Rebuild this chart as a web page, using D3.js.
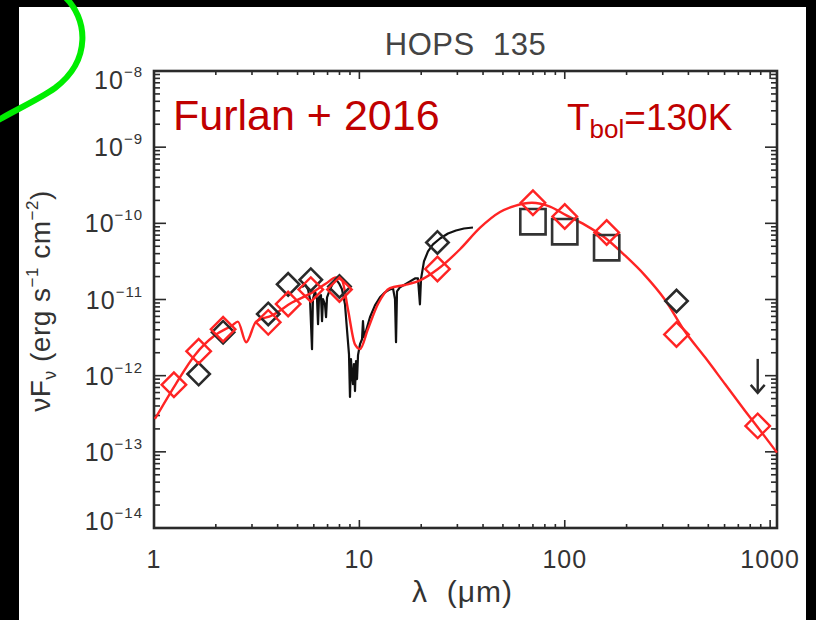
<!DOCTYPE html>
<html>
<head>
<meta charset="utf-8">
<script src="https://cdn.jsdelivr.net/npm/d3@7"></script>
<style>
  body { margin: 0; background: #000; }
  svg { display: block; }
  text { font-family: "Liberation Sans", Arial, sans-serif; }
</style>
</head>
<body>
<div id="chart"></div>
<script>
// photometry (red = model fit points, black = observed)
var photWave = [1.25, 1.65, 2.17, 3.6, 4.5, 5.8, 8.0, 24, 70, 100, 160, 350, 870];
var redFlux  = [7.59e-13, 2.09e-12, 4.07e-12, 5.01e-12, 8.71e-12, 1.35e-11, 1.35e-11, 2.51e-11, 1.86e-10, 1.23e-10, 7.59e-11, 3.47e-12, 2.19e-13];

var diamondWave = [1.65, 2.17, 3.6, 4.5, 5.8, 8.0, 24, 350];
var diamondFlux = [1.05e-12, 3.72e-12, 6.46e-12, 1.58e-11, 1.82e-11, 1.48e-11, 5.62e-11, 9.55e-12];

var squareWave = [70, 100, 160];
var squareFlux = [1.05e-10, 7.76e-11, 4.79e-11];

var limitWave = [870];
var limitFlux = [1.66e-12];

// best fit model
var modelWave = [1.01, 1.27, 1.58, 1.98, 2.40, 2.56, 2.81, 3.14, 3.75, 4.70, 5.88, 6.88, 7.69, 8.23, 8.80, 9.52, 10.07, 11.0, 12.32, 14.09, 16.67, 19.72, 24.13, 30.9, 38.6, 48.4, 57.2, 69.2, 84.7, 102.5, 125.4, 157, 196, 245, 307, 385, 482, 603, 754, 912, 1080];
var modelFlux = [2.70e-13, 7.59e-13, 1.86e-12, 3.39e-12, 4.57e-12, 5.13e-12, 2.75e-12, 5.13e-12, 6.17e-12, 9.12e-12, 1.23e-11, 1.62e-11, 1.95e-11, 1.78e-11, 7.41e-12, 2.57e-12, 2.24e-12, 4.07e-12, 8.71e-12, 1.41e-11, 1.55e-11, 1.78e-11, 2.51e-11, 4.57e-11, 8.71e-11, 1.41e-10, 1.70e-10, 1.86e-10, 1.66e-10, 1.26e-10, 9.55e-11, 6.46e-11, 3.80e-11, 2.09e-11, 1.00e-11, 3.80e-12, 1.74e-12, 7.76e-13, 3.47e-13, 1.78e-13, 9.77e-14];

// IRS spectrum
var specWave = [5.26, 5.44, 5.62, 5.75, 5.88, 5.94, 6.08, 6.22, 6.29, 6.36, 6.50, 6.58, 6.65, 6.80, 6.88, 6.96, 7.19, 7.44, 7.69, 7.96, 8.23, 8.51, 8.70, 8.90, 9.00, 9.10, 9.20, 9.31, 9.41, 9.52, 9.63, 9.74, 9.85, 10.07, 10.30, 10.41, 10.53, 10.77, 11.26, 11.91, 12.60, 13.32, 14.09, 14.58, 14.91, 15.08, 15.25, 15.77, 16.67, 17.64, 18.65, 19.29, 19.72, 19.95, 20.63, 21.58, 22.82, 24.69, 27.01, 29.53, 32.30, 35.73];
var specFlux = [1.45e-11, 1.58e-11, 1.36e-11, 1.01e-11, 2.23e-12, 1.01e-11, 1.28e-11, 1.01e-11, 4.73e-12, 1.07e-11, 1.14e-11, 5.19e-12, 1.01e-11, 8.65e-12, 5.85e-12, 1.07e-11, 1.36e-11, 1.63e-11, 1.84e-11, 1.63e-11, 1.36e-11, 8.65e-12, 4.07e-12, 1.92e-12, 5.25e-13, 1.65e-12, 1.05e-12, 7.76e-13, 1.42e-12, 6.28e-13, 1.55e-12, 9.02e-13, 1.86e-12, 2.59e-12, 3.01e-12, 5.19e-12, 3.20e-12, 3.84e-12, 5.85e-12, 8.39e-12, 1.07e-11, 1.24e-11, 1.36e-11, 1.40e-11, 1.01e-11, 2.75e-12, 1.28e-11, 1.45e-11, 1.58e-11, 1.73e-11, 1.89e-11, 1.89e-11, 8.65e-12, 1.84e-11, 3.16e-11, 4.28e-11, 5.28e-11, 6.32e-11, 7.35e-11, 8.05e-11, 8.55e-11, 8.81e-11];

var xTicks = [1, 10, 100, 1000];
var xTickLabels = ["1", "10", "100", "1000"];
var yTickExp = [-8, -9, -10, -11, -12, -13, -14];

var W = 816, H = 620;
var margin = {top: 71, bottom: 92, left: 154, right: 39};
var red = "#ff2424", ink = "#2a2a2a";

var svg = d3.select("#chart").append("svg")
  .attr("width", W)
  .attr("height", H);

svg.append("rect").attr("width", W).attr("height", H).attr("fill", "#000");
svg.append("rect").attr("x", 19).attr("y", 7).attr("width", 787).attr("height", H - 7).attr("fill", "#fff");

/* scales */
var xScale = d3.scaleLog().domain([1, 1080]).range([margin.left, W - margin.right]);
var yScale = d3.scaleLog().domain([1e-14, 1e-8]).range([H - margin.bottom, margin.top]);
var x0 = margin.left, x1 = W - margin.right, y0 = H - margin.bottom, y1 = margin.top;

/* minor + major ticks, inward on all four sides */
var ax = svg.append("g").attr("stroke", ink).attr("stroke-width", 1.6);
xScale.ticks().forEach(function(t){
  var major = xTicks.indexOf(t) >= 0;
  var len = major ? 8 : 4;
  var px = xScale(t);
  ax.append("line").attr("x1", px).attr("x2", px).attr("y1", y0).attr("y2", y0 - len);
  ax.append("line").attr("x1", px).attr("x2", px).attr("y1", y1).attr("y2", y1 + len);
});
yScale.ticks().forEach(function(t){
  var major = Math.abs(Math.log10(t) - Math.round(Math.log10(t))) < 1e-6;
  var len = major ? 12 : 6;
  var py = yScale(t);
  ax.append("line").attr("x1", x0).attr("x2", x0 + len).attr("y1", py).attr("y2", py);
  ax.append("line").attr("x1", x1).attr("x2", x1 - len).attr("y1", py).attr("y2", py);
});

svg.append("rect")
  .attr("x", x0).attr("y", y1)
  .attr("width", x1 - x0).attr("height", y0 - y1)
  .attr("fill", "none").attr("stroke", ink).attr("stroke-width", 2.6);

/* tick labels */
xTicks.forEach(function(t, i){
  svg.append("text")
    .attr("x", xScale(t)).attr("y", y0 + 40)
    .attr("text-anchor", "middle")
    .attr("font-size", 25).attr("letter-spacing", 1).attr("fill", "#333")
    .text(xTickLabels[i]);
});
yTickExp.forEach(function(e){
  var py = Math.min(Math.max(yScale(Math.pow(10, e)), y1 + 9), y0 - 7);
  var t = svg.append("text")
    .attr("x", 143).attr("y", py + 9)
    .attr("text-anchor", "end")
    .attr("font-size", 25).attr("letter-spacing", 1).attr("fill", "#333");
  t.append("tspan").text("10");
  t.append("tspan").attr("font-size", 15).attr("dy", -12).text("\u2212" + Math.abs(e));
});

/* titles */
svg.append("text")
  .attr("x", (x0 + x1) / 2).attr("y", 55)
  .attr("text-anchor", "middle")
  .attr("font-size", 31).attr("letter-spacing", 0.5).attr("fill", "#444")
  .attr("xml:space", "preserve")
  .text("HOPS  135");

svg.append("text")
  .attr("x", (x0 + x1) / 2 - 3).attr("y", 602)
  .attr("text-anchor", "middle")
  .attr("font-size", 30).attr("letter-spacing", 1).attr("fill", "#333")
  .attr("xml:space", "preserve")
  .text("\u03bb  (\u03bcm)");

var yl = svg.append("text")
  .attr("transform", "translate(50,301) rotate(-90)")
  .attr("text-anchor", "middle")
  .attr("font-size", 28).attr("letter-spacing", 0.5).attr("fill", "#333");
yl.append("tspan").text("\u03bdF");
yl.append("tspan").attr("font-size", 18).attr("dy", 6).text("\u03bd");
yl.append("tspan").attr("dy", -6).text(" (erg s");
yl.append("tspan").attr("font-size", 17).attr("dy", -12).text("\u22121");
yl.append("tspan").attr("dy", 12).text(" cm");
yl.append("tspan").attr("font-size", 17).attr("dy", -12).text("\u22122");
yl.append("tspan").attr("dy", 12).text(")");

/* data */
var line = d3.line()
  .x(function(d){ return xScale(d[0]); })
  .y(function(d){ return yScale(d[1]); });

var plot = svg.append("g");

plot.append("path")
  .datum(d3.zip(specWave, specFlux))
  .attr("d", line)
  .attr("fill", "none").attr("stroke", "#111").attr("stroke-width", 2.2)
  .attr("stroke-linejoin", "round");

plot.append("path")
  .datum(d3.zip(modelWave, modelFlux))
  .attr("d", line.curve(d3.curveMonotoneX))
  .attr("fill", "none").attr("stroke", red).attr("stroke-width", 2.4);

var diamond = d3.symbol().type(d3.symbolSquare);

plot.selectAll(".bdia")
  .data(d3.zip(diamondWave, diamondFlux))
  .join("path")
  .attr("class", "bdia")
  .attr("d", diamond.size(250))
  .attr("transform", function(d){ return "translate(" + xScale(d[0]) + "," + yScale(d[1]) + ") rotate(45)"; })
  .attr("fill", "none").attr("stroke", ink).attr("stroke-width", 2.6);

plot.selectAll(".bsq")
  .data(d3.zip(squareWave, squareFlux))
  .join("path")
  .attr("class", "bsq")
  .attr("d", diamond.size(640))
  .attr("transform", function(d){ return "translate(" + xScale(d[0]) + "," + yScale(d[1]) + ")"; })
  .attr("fill", "none").attr("stroke", "#333").attr("stroke-width", 2.6);

plot.selectAll(".rdia")
  .data(d3.zip(photWave, redFlux))
  .join("path")
  .attr("class", "rdia")
  .attr("d", diamond.size(300))
  .attr("transform", function(d){ return "translate(" + xScale(d[0]) + "," + yScale(d[1]) + ") rotate(45)"; })
  .attr("fill", "none").attr("stroke", red).attr("stroke-width", 2.4);

/* upper limit arrow */
d3.zip(limitWave, limitFlux).forEach(function(d){
  var px = xScale(d[0]), py = yScale(d[1]);
  var g = plot.append("g").attr("stroke", ink).attr("stroke-width", 2.4).attr("fill", "none");
  g.append("line").attr("x1", px).attr("x2", px).attr("y1", py).attr("y2", py + 34);
  g.append("path").attr("d", "M" + (px - 7) + "," + (py + 26) + "L" + px + "," + (py + 34) + "L" + (px + 7) + "," + (py + 26));
});

/* annotations */
svg.append("text")
  .attr("x", 173).attr("y", 130)
  .attr("font-size", 43).attr("fill", "#c00000")
  .text("Furlan + 2016");

var tb = svg.append("text")
  .attr("x", 567).attr("y", 130)
  .attr("font-size", 37).attr("fill", "#c00000");
tb.append("tspan").text("T");
tb.append("tspan").attr("font-size", 26).attr("dy", 8).text("bol");
tb.append("tspan").attr("dy", -8).text("=130K");

/* green highlight arc */
svg.append("path")
  .attr("d", "M64,-4 C88,18 92,60 55,88 C38,100 15,110 -5,122")
  .attr("fill", "none").attr("stroke", "#00ee00").attr("stroke-width", 6);
</script>
</body>
</html>
